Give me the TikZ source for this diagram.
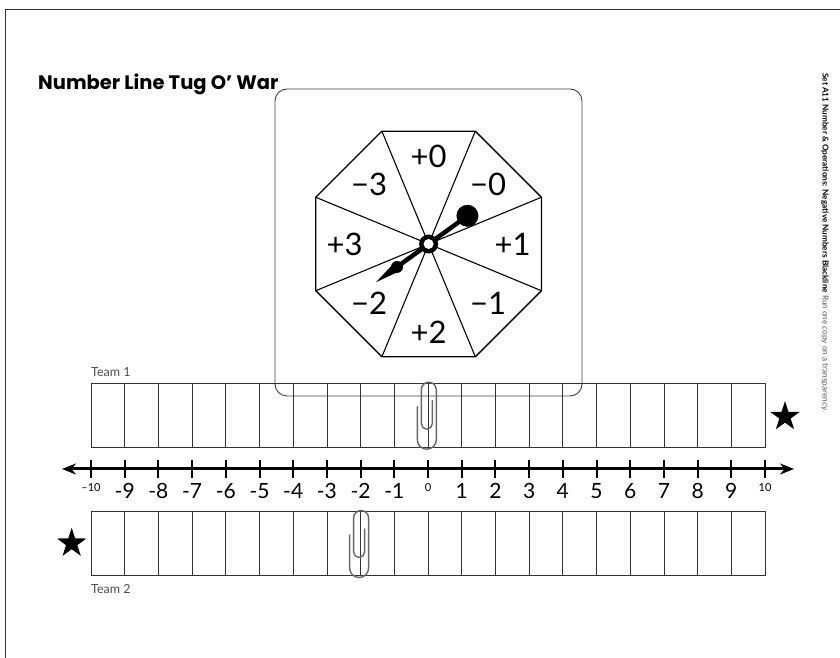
\documentclass[tikz,border=0pt]{standalone}
\usepackage{fontspec}
\setmainfont{Lato}
\newfontfamily\titlefont{Poppins}
\usepackage{tikz}
\usetikzlibrary{positioning,arrows.meta,shapes.geometric}

\begin{document}
\begin{tikzpicture}[x=1pt, y=1pt,
  frame/.style={draw=black!75, line width=0.9pt},
  cell/.style={draw=black!80, line width=0.8pt, minimum width=33.7pt, inner sep=0pt, outer sep=0pt, anchor=south west},
  sector/.style={font=\fontsize{31}{33}\selectfont},
  tick/.style={font=\fontsize{21}{23}\selectfont},
  endtick/.style={font=\fontsize{11}{13}\selectfont},
  team/.style={font=\fontsize{12.5}{14}\selectfont, text=black!70, anchor=west, inner sep=0pt},
  prize/.style={star, star points=5, star point ratio=2.6, fill=black, inner sep=0pt, minimum size=31pt},
  pics/paperclip/.style={code={
    \draw[draw=black!60, line width=1.4pt, line cap=round]
      (4,-19) -- (4,-42) arc[start angle=0, end angle=-180, radius=5.5]
      -- (-7,-8) arc[start angle=180, end angle=0, radius=7.5]
      -- (8,-58) arc[start angle=0, end angle=-180, radius=9.5] -- (-11,-25);
  }}
]
\useasboundingbox (0,0) rectangle (840,658);

% page edge
\draw[black!80, line width=1pt] (5,0) -- (5,648) -- (840,648);

\node[anchor=base west, inner sep=0pt, font=\titlefont\bfseries\fontsize{19.5}{22}\selectfont] (title) at (38,568) {Number Line Tug O’ War};

\node[rotate=-90, anchor=west, inner sep=0pt, font=\fontsize{8.2}{10}\selectfont] (note) at (825,585)
  {{\bfseries Set A11 Number \& Operations: Negative Numbers Blackline}\ \textcolor{black!65}{Run one copy on a transparency.}};

% spinner
\node[frame, rounded corners=12pt, minimum width=307pt, minimum height=307pt] (board) at (428.5,415.5) {};
\node[draw, line width=1.3pt, regular polygon, regular polygon sides=8, minimum size=244.2pt, inner sep=0pt, outer sep=0pt] (spinner) at (428.6,414) {};
\foreach \c in {1,...,8}
  \draw[line width=1.1pt] (spinner.center) -- (spinner.corner \c);

\path (spinner.center) ++(90:88) node[sector] (plusA) {+0};
\path (spinner.center) ++(45:84) node[sector] (minusA) {−0};
\path (spinner.center) ++(0:84) node[sector] (plusB) {+1};
\path (spinner.center) ++(-45:84) node[sector] (minusB) {−1};
\path (spinner.center) ++(-90:88) node[sector] (plusC) {+2};
\path (spinner.center) ++(-135:84) node[sector] (minusC) {−2};
\path (spinner.center) ++(180:84) node[sector] (plusD) {+3};
\path (spinner.center) ++(135:84) node[sector] (minusD) {−3};

% pointer
\path (spinner.center) ++(36:48) coordinate (knob);
\path (spinner.center) ++(216:39) coordinate (tail);
\path (spinner.center) ++(216:65) coordinate (tip);
\draw[line width=4.5pt] (knob) -- (tail);
\fill (knob) circle[radius=11];
\fill (tail) circle[radius=6];
\fill (tip) -- ([shift={(126:5)}]tail) -- ([shift={(306:5)}]tail) -- cycle;
\fill (spinner.center) circle[radius=9.5];
\fill[white] (spinner.center) circle[radius=5];

% team 1 row
\node[team] (teamA) at (91,286) {Team 1};
\foreach \i in {0,...,19}
  \node[cell, minimum height=64.4pt] (topcell\i) at ({91+33.7*\i},210.3) {};
\node[prize] (starA) at (785,241.3) {};
\pic (clipA) at (428.3,276.3) {paperclip};

% number line
\coordinate (lineL) at (62,189);
\coordinate (lineR) at (794,189);
\draw[line width=3pt, {Stealth[length=14pt,width=11pt]}-{Stealth[length=14pt,width=11pt]}] (lineL) -- (lineR);
\foreach \k in {0,...,20}
  \draw[line width=2pt] ({91+33.7*\k},180) -- ({91+33.7*\k},198);
\foreach \k in {-9,...,-1,1,2,3,4,5,6,7,8,9}
  \node[tick] at ({91+33.7*(\k+10)},167) {\k};
\node[endtick] (minten) at (91,170) {–10};
\node[endtick] (zero) at (428,170) {0};
\node[endtick] (plusten) at (765,170) {10};

% team 2 row
\foreach \i in {0,...,19}
  \node[cell, minimum height=64pt] (botcell\i) at ({91+33.7*\i},82.3) {};
\node[prize] (starB) at (71.7,114.7) {};
\node[team] (teamB) at (91,69) {Team 2};
\pic (clipB) at (360.6,148) {paperclip};

\end{tikzpicture}
\end{document}
